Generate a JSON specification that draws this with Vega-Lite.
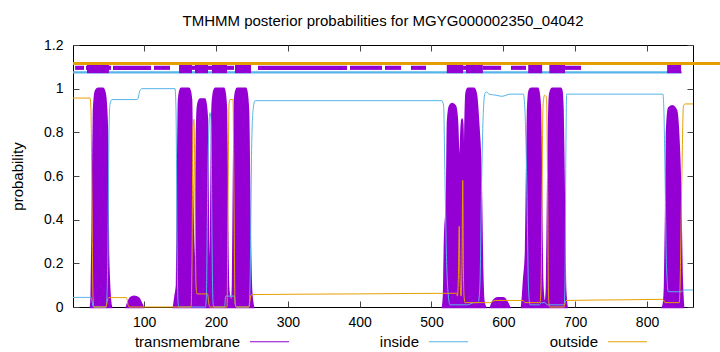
{
"$schema": "https://vega.github.io/schema/vega-lite/v6.json",
"width": 620, "height": 262,
"autosize": "none",
"padding": {"left": 73, "top": 45, "right": 27, "bottom": 45},
"background": "white",
"config": {
  "font": "Liberation Sans",
  "view": {"stroke": "black", "strokeWidth": 1},
  "axis": {"grid": false, "domain": false, "tickSize": -6, "tickColor": "#444", "labelFontSize": 14, "labelColor": "black", "titleFontSize": 15, "titleFontWeight": "normal", "titleColor": "black"},
  "legend": {"orient": "none", "legendX": 60, "legendY": 276, "direction": "horizontal", "columns": 3, "symbolType": "stroke", "symbolSize": 1521, "symbolStrokeWidth": 1.2, "labelAlign": "right", "labelOffset": -50, "symbolOffset": 116, "columnPadding": 20, "gridAlign": "all", "title": null, "labelFontSize": 15, "labelColor": "black", "labelLimit": 200, "padding": 0}
},
"title": {"text": "TMHMM posterior probabilities for MGYG000002350_04042", "fontSize": 15, "fontWeight": "normal", "offset": 9, "anchor": "middle", "color": "black"},
"datasets": {
  "bands": [
    {"kind": "inside", "x": 1, "x2": 848.7},
    {"kind": "thin", "x": 4, "x2": 16.3},
    {"kind": "thin", "x": 19.1, "x2": 53.9},
    {"kind": "thin", "x": 56.7, "x2": 109.6},
    {"kind": "thin", "x": 113.7, "x2": 136},
    {"kind": "thin", "x": 166.6, "x2": 170.8},
    {"kind": "thin", "x": 188.9, "x2": 194.5},
    {"kind": "thin", "x": 215.4, "x2": 225.1},
    {"kind": "thin", "x": 258.5, "x2": 382.4},
    {"kind": "thin", "x": 386.6, "x2": 431.1},
    {"kind": "thin", "x": 435.3, "x2": 457.6},
    {"kind": "thin", "x": 471.5, "x2": 492.4},
    {"kind": "thin", "x": 543.9, "x2": 548},
    {"kind": "thin", "x": 571.7, "x2": 596.8},
    {"kind": "thin", "x": 610.7, "x2": 631.6},
    {"kind": "thin", "x": 685.8, "x2": 708.1},
    {"kind": "block", "x": 20.5, "x2": 51},
    {"kind": "block", "x": 148.6, "x2": 166.6},
    {"kind": "block", "x": 170.8, "x2": 188.9},
    {"kind": "block", "x": 194.5, "x2": 215.4},
    {"kind": "block", "x": 226.5, "x2": 248.8},
    {"kind": "block", "x": 521.3, "x2": 544},
    {"kind": "block", "x": 548, "x2": 571.5},
    {"kind": "block", "x": 634.6, "x2": 654},
    {"kind": "block", "x": 664, "x2": 685.8},
    {"kind": "block", "x": 828, "x2": 847.4},
    {"kind": "outside", "x": 1, "x2": 902}
  ],
  "curves": [
    {"s":"transmembrane","g":1,"x":26,"p":0},{"s":"transmembrane","g":1,"x":27,"p":0.05},{"s":"transmembrane","g":1,"x":28.8,"p":0.5},{"s":"transmembrane","g":1,"x":30.2,"p":0.9},{"s":"transmembrane","g":1,"x":33,"p":0.99},{"s":"transmembrane","g":1,"x":35.8,"p":1},{"s":"transmembrane","g":1,"x":42.8,"p":1},{"s":"transmembrane","g":1,"x":45.5,"p":0.97},{"s":"transmembrane","g":1,"x":48.3,"p":0.8},{"s":"transmembrane","g":1,"x":49.7,"p":0.25},{"s":"transmembrane","g":1,"x":52.5,"p":0.03},{"s":"transmembrane","g":1,"x":53.9,"p":0},
    {"s":"transmembrane","g":2,"x":76,"p":0},{"s":"transmembrane","g":2,"x":78,"p":0.02},{"s":"transmembrane","g":2,"x":81,"p":0.04},{"s":"transmembrane","g":2,"x":86,"p":0.047},{"s":"transmembrane","g":2,"x":92,"p":0.04},{"s":"transmembrane","g":2,"x":96,"p":0.015},{"s":"transmembrane","g":2,"x":98,"p":0},
    {"s":"transmembrane","g":3,"x":141.6,"p":0},{"s":"transmembrane","g":3,"x":143.7,"p":0.05},{"s":"transmembrane","g":3,"x":145.8,"p":0.1},{"s":"transmembrane","g":3,"x":147.2,"p":0.6},{"s":"transmembrane","g":3,"x":148.6,"p":0.95},{"s":"transmembrane","g":3,"x":151.3,"p":1},{"s":"transmembrane","g":3,"x":162.5,"p":1},{"s":"transmembrane","g":3,"x":165.3,"p":0.95},{"s":"transmembrane","g":3,"x":166.6,"p":0.6},{"s":"transmembrane","g":3,"x":168.7,"p":0.2},{"s":"transmembrane","g":3,"x":170.8,"p":0.15},{"s":"transmembrane","g":3,"x":172.2,"p":0.3},{"s":"transmembrane","g":3,"x":173.6,"p":0.8},{"s":"transmembrane","g":3,"x":175,"p":0.92},{"s":"transmembrane","g":3,"x":177.8,"p":0.95},{"s":"transmembrane","g":3,"x":184.7,"p":0.95},{"s":"transmembrane","g":3,"x":187.5,"p":0.85},{"s":"transmembrane","g":3,"x":188.9,"p":0.3},{"s":"transmembrane","g":3,"x":190.3,"p":0.15},{"s":"transmembrane","g":3,"x":191.7,"p":0.1},{"s":"transmembrane","g":3,"x":193.1,"p":0.3},{"s":"transmembrane","g":3,"x":194.5,"p":0.8},{"s":"transmembrane","g":3,"x":195.9,"p":0.95},{"s":"transmembrane","g":3,"x":198.7,"p":1},{"s":"transmembrane","g":3,"x":211.2,"p":1},{"s":"transmembrane","g":3,"x":214,"p":0.9},{"s":"transmembrane","g":3,"x":215.4,"p":0.4},{"s":"transmembrane","g":3,"x":216.8,"p":0.1},{"s":"transmembrane","g":3,"x":218.2,"p":0.05},{"s":"transmembrane","g":3,"x":222.3,"p":0.02},{"s":"transmembrane","g":3,"x":223.7,"p":0.1},{"s":"transmembrane","g":3,"x":225.1,"p":0.6},{"s":"transmembrane","g":3,"x":226.5,"p":0.95},{"s":"transmembrane","g":3,"x":229.3,"p":1},{"s":"transmembrane","g":3,"x":241.8,"p":1},{"s":"transmembrane","g":3,"x":244.6,"p":0.9},{"s":"transmembrane","g":3,"x":246.7,"p":0.4},{"s":"transmembrane","g":3,"x":248.8,"p":0.08},{"s":"transmembrane","g":3,"x":251.6,"p":0},
    {"s":"transmembrane","g":4,"x":516,"p":0},{"s":"transmembrane","g":4,"x":517.4,"p":0.05},{"s":"transmembrane","g":4,"x":518.8,"p":0.3},{"s":"transmembrane","g":4,"x":521.6,"p":0.5},{"s":"transmembrane","g":4,"x":523,"p":0.85},{"s":"transmembrane","g":4,"x":525.8,"p":0.92},{"s":"transmembrane","g":4,"x":528.6,"p":0.93},{"s":"transmembrane","g":4,"x":532.8,"p":0.92},{"s":"transmembrane","g":4,"x":535.5,"p":0.85},{"s":"transmembrane","g":4,"x":538.3,"p":0.6},{"s":"transmembrane","g":4,"x":541.1,"p":0.75},{"s":"transmembrane","g":4,"x":542.5,"p":0.86},{"s":"transmembrane","g":4,"x":544.6,"p":0.6},{"s":"transmembrane","g":4,"x":546,"p":0.55},{"s":"transmembrane","g":4,"x":547.4,"p":0.85},{"s":"transmembrane","g":4,"x":548.8,"p":0.98},{"s":"transmembrane","g":4,"x":550.9,"p":1},{"s":"transmembrane","g":4,"x":559.2,"p":1},{"s":"transmembrane","g":4,"x":562,"p":0.97},{"s":"transmembrane","g":4,"x":564.8,"p":0.85},{"s":"transmembrane","g":4,"x":568.5,"p":0.58},{"s":"transmembrane","g":4,"x":570.3,"p":0.2},{"s":"transmembrane","g":4,"x":572.1,"p":0.03},{"s":"transmembrane","g":4,"x":574.5,"p":0},
    {"s":"transmembrane","g":5,"x":583,"p":0},{"s":"transmembrane","g":5,"x":586,"p":0.025},{"s":"transmembrane","g":5,"x":592,"p":0.04},{"s":"transmembrane","g":5,"x":600,"p":0.04},{"s":"transmembrane","g":5,"x":605,"p":0.02},{"s":"transmembrane","g":5,"x":608,"p":0},
    {"s":"transmembrane","g":6,"x":626,"p":0},{"s":"transmembrane","g":6,"x":627.4,"p":0.05},{"s":"transmembrane","g":6,"x":628.8,"p":0.12},{"s":"transmembrane","g":6,"x":631.6,"p":0.25},{"s":"transmembrane","g":6,"x":633,"p":0.6},{"s":"transmembrane","g":6,"x":634.4,"p":0.9},{"s":"transmembrane","g":6,"x":636.5,"p":0.99},{"s":"transmembrane","g":6,"x":638.5,"p":1},{"s":"transmembrane","g":6,"x":648.3,"p":1},{"s":"transmembrane","g":6,"x":651.1,"p":0.9},{"s":"transmembrane","g":6,"x":652.5,"p":0.5},{"s":"transmembrane","g":6,"x":653.8,"p":0.15},{"s":"transmembrane","g":6,"x":655.2,"p":0.05},{"s":"transmembrane","g":6,"x":656.6,"p":0.02},{"s":"transmembrane","g":6,"x":659.4,"p":0.03},{"s":"transmembrane","g":6,"x":660.8,"p":0.1},{"s":"transmembrane","g":6,"x":662.9,"p":0.7},{"s":"transmembrane","g":6,"x":665,"p":0.97},{"s":"transmembrane","g":6,"x":667.8,"p":1},{"s":"transmembrane","g":6,"x":680.3,"p":1},{"s":"transmembrane","g":6,"x":682.4,"p":0.9},{"s":"transmembrane","g":6,"x":683.8,"p":0.6},{"s":"transmembrane","g":6,"x":685.8,"p":0.1},{"s":"transmembrane","g":6,"x":688,"p":0},
    {"s":"transmembrane","g":7,"x":822.3,"p":0},{"s":"transmembrane","g":7,"x":823.7,"p":0.02},{"s":"transmembrane","g":7,"x":825.1,"p":0.1},{"s":"transmembrane","g":7,"x":826.5,"p":0.4},{"s":"transmembrane","g":7,"x":827.8,"p":0.8},{"s":"transmembrane","g":7,"x":830.6,"p":0.91},{"s":"transmembrane","g":7,"x":834.8,"p":0.92},{"s":"transmembrane","g":7,"x":840.4,"p":0.9},{"s":"transmembrane","g":7,"x":843.2,"p":0.8},{"s":"transmembrane","g":7,"x":846,"p":0.55},{"s":"transmembrane","g":7,"x":848.1,"p":0.15},{"s":"transmembrane","g":7,"x":850.2,"p":0},
    {"s":"inside","x":1,"p":0.044},{"s":"inside","x":26,"p":0.044},{"s":"inside","x":27.4,"p":0.03},{"s":"inside","x":28.8,"p":0.003},{"s":"inside","x":30,"p":0},{"s":"inside","x":47,"p":0},{"s":"inside","x":48.3,"p":0.05},{"s":"inside","x":49.7,"p":0.3},{"s":"inside","x":51.1,"p":0.8},{"s":"inside","x":52.5,"p":0.93},{"s":"inside","x":55.3,"p":0.95},{"s":"inside","x":90,"p":0.95},{"s":"inside","x":91.5,"p":0.955},{"s":"inside","x":94,"p":0.99},{"s":"inside","x":97,"p":1},{"s":"inside","x":143,"p":1},{"s":"inside","x":144.4,"p":0.9},{"s":"inside","x":145.8,"p":0.3},{"s":"inside","x":147.2,"p":0.02},{"s":"inside","x":148.6,"p":0},{"s":"inside","x":185.3,"p":0},{"s":"inside","x":186.7,"p":0.05},{"s":"inside","x":188,"p":0.4},{"s":"inside","x":189.3,"p":0.72},{"s":"inside","x":191.7,"p":0.89},{"s":"inside","x":193.1,"p":0.85},{"s":"inside","x":194.5,"p":0.3},{"s":"inside","x":195.9,"p":0.02},{"s":"inside","x":197.3,"p":0},{"s":"inside","x":212,"p":0},{"s":"inside","x":213.5,"p":0.05},{"s":"inside","x":225.5,"p":0.05},{"s":"inside","x":227,"p":0.01},{"s":"inside","x":228.5,"p":0},{"s":"inside","x":245.9,"p":0},{"s":"inside","x":247.4,"p":0.1},{"s":"inside","x":249.8,"p":0.75},{"s":"inside","x":251.6,"p":0.9},{"s":"inside","x":254.4,"p":0.945},{"s":"inside","x":514.6,"p":0.945},{"s":"inside","x":516.9,"p":0.92},{"s":"inside","x":518.8,"p":0.58},{"s":"inside","x":521.1,"p":0.2},{"s":"inside","x":523.5,"p":0.05},{"s":"inside","x":525.8,"p":0.01},{"s":"inside","x":550,"p":0.01},{"s":"inside","x":560,"p":0.02},{"s":"inside","x":565,"p":0.02},{"s":"inside","x":567.4,"p":0.1},{"s":"inside","x":569.8,"p":0.58},{"s":"inside","x":572.1,"p":0.89},{"s":"inside","x":574.5,"p":0.98},{"s":"inside","x":576.8,"p":0.985},{"s":"inside","x":580,"p":0.975},{"s":"inside","x":590,"p":0.97},{"s":"inside","x":598,"p":0.965},{"s":"inside","x":604,"p":0.97},{"s":"inside","x":609.3,"p":0.975},{"s":"inside","x":627.9,"p":0.975},{"s":"inside","x":630.2,"p":0.89},{"s":"inside","x":632.6,"p":0.58},{"s":"inside","x":634.9,"p":0.1},{"s":"inside","x":637.1,"p":0.01},{"s":"inside","x":650,"p":0.01},{"s":"inside","x":653,"p":0.02},{"s":"inside","x":658,"p":0.02},{"s":"inside","x":661,"p":0.01},{"s":"inside","x":684.5,"p":0.01},{"s":"inside","x":685.8,"p":0.1},{"s":"inside","x":687,"p":0.7},{"s":"inside","x":688.2,"p":0.975},{"s":"inside","x":822.1,"p":0.975},{"s":"inside","x":823.5,"p":0.9},{"s":"inside","x":825.1,"p":0.6},{"s":"inside","x":827,"p":0.2},{"s":"inside","x":829.7,"p":0.07},{"s":"inside","x":848.4,"p":0.07},{"s":"inside","x":850.7,"p":0.078},{"s":"inside","x":864,"p":0.078},
    {"s":"outside","x":1,"p":0.957},{"s":"outside","x":24.7,"p":0.957},{"s":"outside","x":26,"p":0.9},{"s":"outside","x":27.4,"p":0.5},{"s":"outside","x":28.8,"p":0.05},{"s":"outside","x":30.2,"p":0},{"s":"outside","x":46.9,"p":0},{"s":"outside","x":48.3,"p":0.02},{"s":"outside","x":49.7,"p":0.04},{"s":"outside","x":51,"p":0.043},{"s":"outside","x":75.5,"p":0.043},{"s":"outside","x":77.6,"p":0.01},{"s":"outside","x":79,"p":0},{"s":"outside","x":165.3,"p":0},{"s":"outside","x":166.6,"p":0.2},{"s":"outside","x":168,"p":0.82},{"s":"outside","x":169.4,"p":0.86},{"s":"outside","x":170.8,"p":0.5},{"s":"outside","x":172.2,"p":0.1},{"s":"outside","x":173.6,"p":0.06},{"s":"outside","x":188.2,"p":0.06},{"s":"outside","x":190.3,"p":0.01},{"s":"outside","x":191.5,"p":0},{"s":"outside","x":215.4,"p":0},{"s":"outside","x":216.8,"p":0.5},{"s":"outside","x":218.2,"p":0.93},{"s":"outside","x":219.5,"p":0.95},{"s":"outside","x":223.7,"p":0.95},{"s":"outside","x":225.1,"p":0.5},{"s":"outside","x":226.5,"p":0.02},{"s":"outside","x":228,"p":0},{"s":"outside","x":245.9,"p":0},{"s":"outside","x":247.4,"p":0.03},{"s":"outside","x":248.8,"p":0.055},{"s":"outside","x":251,"p":0.057},{"s":"outside","x":400,"p":0.06},{"s":"outside","x":535,"p":0.063},{"s":"outside","x":536.1,"p":0.05},{"s":"outside","x":537.5,"p":0.15},{"s":"outside","x":538.6,"p":0.37},{"s":"outside","x":539.6,"p":0.15},{"s":"outside","x":541.1,"p":0.05},{"s":"outside","x":542.5,"p":0.2},{"s":"outside","x":543.5,"p":0.58},{"s":"outside","x":544.3,"p":0.2},{"s":"outside","x":545.3,"p":0.05},{"s":"outside","x":546.7,"p":0.02},{"s":"outside","x":581.5,"p":0.02},{"s":"outside","x":588.5,"p":0.03},{"s":"outside","x":627.4,"p":0.03},{"s":"outside","x":630,"p":0.02},{"s":"outside","x":651.1,"p":0.02},{"s":"outside","x":652.5,"p":0.1},{"s":"outside","x":653.8,"p":0.5},{"s":"outside","x":655.2,"p":0.92},{"s":"outside","x":657.3,"p":0.97},{"s":"outside","x":660.1,"p":0.96},{"s":"outside","x":661.5,"p":0.6},{"s":"outside","x":662.9,"p":0.05},{"s":"outside","x":664.3,"p":0},{"s":"outside","x":684.5,"p":0},{"s":"outside","x":686,"p":0.02},{"s":"outside","x":687.2,"p":0.03},{"s":"outside","x":772,"p":0.033},{"s":"outside","x":822.3,"p":0.035},{"s":"outside","x":825,"p":0.02},{"s":"outside","x":845,"p":0.02},{"s":"outside","x":846,"p":0.1},{"s":"outside","x":848.4,"p":0.58},{"s":"outside","x":850.7,"p":0.92},{"s":"outside","x":853,"p":0.93},{"s":"outside","x":864,"p":0.93}
  ]
},
"layer": [
  {"data": {"name": "bands"}, "transform": [{"filter": "datum.kind == 'inside'"}],
   "mark": {"type": "rect", "fill": "#56b4e9"},
   "encoding": {"x": {"field": "x", "type": "quantitative", "scale": {"domain": [1, 864], "nice": false, "zero": false}, "axis": null}, "x2": {"field": "x2"},
     "y": {"datum": 1.069, "type": "quantitative", "scale": {"domain": [0, 1.2], "nice": false}, "axis": null}, "y2": {"datum": 1.08}}},
  {"data": {"name": "bands"}, "transform": [{"filter": "datum.kind == 'thin'"}],
   "mark": {"type": "rect", "fill": "#9400d3"},
   "encoding": {"x": {"field": "x", "type": "quantitative", "scale": {"domain": [1, 864], "nice": false, "zero": false}, "axis": null}, "x2": {"field": "x2"},
     "y": {"datum": 1.086, "type": "quantitative", "scale": {"domain": [0, 1.2], "nice": false}, "axis": null}, "y2": {"datum": 1.105}}},
  {"data": {"name": "bands"}, "transform": [{"filter": "datum.kind == 'block'"}],
   "mark": {"type": "rect", "fill": "#9400d3"},
   "encoding": {"x": {"field": "x", "type": "quantitative", "scale": {"domain": [1, 864], "nice": false, "zero": false}, "axis": null}, "x2": {"field": "x2"},
     "y": {"datum": 1.071, "type": "quantitative", "scale": {"domain": [0, 1.2], "nice": false}, "axis": null}, "y2": {"datum": 1.116}}},
  {"data": {"name": "bands"}, "transform": [{"filter": "datum.kind == 'outside'"}],
   "mark": {"type": "rect", "fill": "#e69f00", "clip": false},
   "encoding": {"x": {"field": "x", "type": "quantitative", "scale": {"domain": [1, 864], "nice": false, "zero": false}, "axis": null}, "x2": {"field": "x2"},
     "y": {"datum": 1.108, "type": "quantitative", "scale": {"domain": [0, 1.2], "nice": false}, "axis": null}, "y2": {"datum": 1.122}}},
  {"data": {"name": "curves"}, "transform": [{"filter": "datum.s == 'transmembrane'"}],
   "mark": {"type": "area", "interpolate": "monotone", "fill": "#9400d3", "strokeWidth": 2.5},
   "encoding": {
     "x": {"field": "x", "type": "quantitative", "scale": {"domain": [1, 864], "nice": false, "zero": false}, "axis": {"orient": "bottom", "values": [100, 200, 300, 400, 500, 600, 700, 800], "title": null, "labelPadding": 14}},
     "y": {"field": "p", "type": "quantitative", "stack": null, "scale": {"domain": [0, 1.2], "nice": false}, "axis": {"orient": "left", "values": [0, 0.2, 0.4, 0.6, 0.8, 1, 1.2], "format": "~g", "title": "probability", "labelPadding": 16, "titlePadding": 18}},
     "detail": {"field": "g", "type": "nominal"},
     "stroke": {"field": "s", "type": "nominal", "scale": {"domain": ["transmembrane", "inside", "outside"], "range": ["#9400d3", "#56b4e9", "#e69f00"]}}
   }},
  {"data": {"name": "curves"}, "transform": [{"filter": "datum.s == 'inside'"}],
   "mark": {"type": "line", "interpolate": "monotone", "strokeWidth": 1},
   "encoding": {
     "x": {"field": "x", "type": "quantitative", "scale": {"domain": [1, 864], "nice": false, "zero": false}, "axis": {"orient": "top", "values": [100, 200, 300, 400, 500, 600, 700, 800], "title": null, "labels": false}},
     "y": {"field": "p", "type": "quantitative", "scale": {"domain": [0, 1.2], "nice": false}, "axis": {"orient": "right", "values": [0, 0.2, 0.4, 0.6, 0.8, 1, 1.2], "title": null, "labels": false}},
     "stroke": {"field": "s", "type": "nominal", "scale": {"domain": ["transmembrane", "inside", "outside"], "range": ["#9400d3", "#56b4e9", "#e69f00"]}}
   }},
  {"data": {"name": "curves"}, "transform": [{"filter": "datum.s == 'outside'"}],
   "mark": {"type": "line", "interpolate": "monotone", "strokeWidth": 1},
   "encoding": {
     "x": {"field": "x", "type": "quantitative", "scale": {"domain": [1, 864], "nice": false, "zero": false}, "axis": null},
     "y": {"field": "p", "type": "quantitative", "scale": {"domain": [0, 1.2], "nice": false}, "axis": null},
     "stroke": {"field": "s", "type": "nominal", "scale": {"domain": ["transmembrane", "inside", "outside"], "range": ["#9400d3", "#56b4e9", "#e69f00"]}}
   }}
],
"resolve": {"axis": {"x": "independent", "y": "independent"}}
}
